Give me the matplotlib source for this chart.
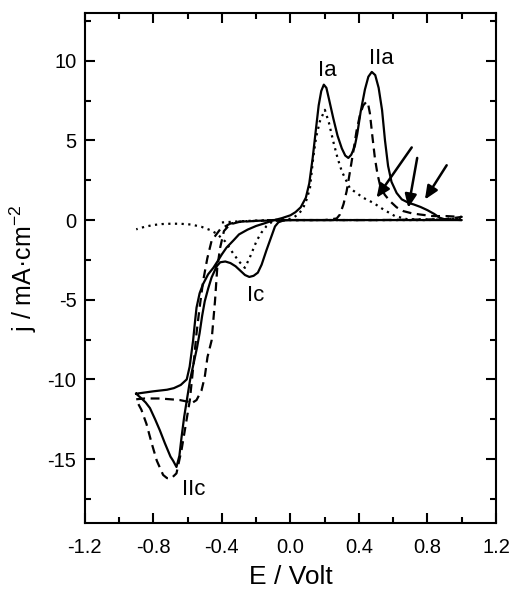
import matplotlib
matplotlib.use("Agg")
import matplotlib.pyplot as plt
from matplotlib.ticker import MultipleLocator

plt.rcParams['font.family'] = ['Liberation Sans', 'DejaVu Sans']
plt.rcParams['mathtext.fontset'] = 'custom'
plt.rcParams['mathtext.rm'] = 'Liberation Sans'
plt.rcParams['mathtext.it'] = 'Liberation Sans'

# ---- solid curve (E in V, j in mA/cm2) ----
solid_E = [-0.90, -0.80, -0.72, -0.68, -0.64, -0.605, -0.588, -0.577, -0.568, -0.558, -0.548, -0.53, -0.509,
           -0.48, -0.45, -0.42, -0.40, -0.373, -0.33, -0.30, -0.25, -0.20, -0.15, -0.10, -0.05, 0.0, 0.03,
           0.06, 0.09, 0.11, 0.13, 0.15, 0.165, 0.18, 0.195, 0.21, 0.225, 0.25, 0.275, 0.30, 0.32, 0.338,
           0.355, 0.375, 0.39, 0.41, 0.435, 0.455, 0.475, 0.495, 0.515, 0.535, 0.552, 0.57, 0.59, 0.62,
           0.65, 0.69, 0.72, 0.76, 0.80, 0.84, 0.87, 0.90, 1.0,
           0.90, 0.50, 0.20, 0.0, -0.04, -0.07, -0.09, -0.11, -0.14, -0.168, -0.19, -0.215, -0.24, -0.265,
           -0.29, -0.32, -0.35, -0.38, -0.41, -0.43, -0.46, -0.48, -0.50, -0.515, -0.53, -0.545, -0.565,
           -0.585, -0.60, -0.62, -0.635, -0.648, -0.665, -0.685, -0.70, -0.733, -0.762, -0.79, -0.82,
           -0.845, -0.869, -0.885, -0.90]
solid_j = [-10.9, -10.75, -10.65, -10.55, -10.35, -10.0, -9.2, -8.3, -7.56, -6.5, -5.5, -4.6, -4.0,
           -3.4, -3.0, -2.5, -2.15, -1.73, -1.25, -0.9, -0.6, -0.37, -0.2, -0.02, 0.12, 0.3, 0.5,
           0.8, 1.4, 2.3, 3.9, 5.8, 7.2, 8.1, 8.5, 8.3, 7.6, 6.4, 5.3, 4.5, 4.05, 3.9,
           4.1, 4.6, 5.4, 6.8, 8.2, 9.0, 9.3, 9.1, 8.3, 6.9, 5.0, 3.4, 2.4, 1.7,
           1.3, 1.08, 0.98, 0.82, 0.62, 0.38, 0.15, 0.05, 0.0,
           0.0, 0.0, 0.0, 0.0, -0.02, -0.14, -0.4, -1.0, -1.9, -2.8, -3.3, -3.5, -3.57, -3.45,
           -3.2, -2.9, -2.7, -2.6, -2.65, -2.9, -3.6, -4.3, -5.1, -6.0, -7.1, -8.0, -9.0,
           -10.0, -11.0, -12.35, -13.6, -14.8, -15.5, -15.1, -14.85, -14.0, -13.2, -12.5, -11.8,
           -11.45, -11.2, -11.05, -10.9]

# ---- dashed curve ----
dash_E = [-0.90, -0.85, -0.762, -0.70, -0.645, -0.60, -0.577, -0.548, -0.519, -0.50, -0.484, -0.46,
          -0.44, -0.427, -0.41, -0.388, -0.353, -0.30, -0.20, 0.0, 0.20, 0.27, 0.289, 0.31, 0.328, 0.347,
          0.367, 0.386, 0.406, 0.425, 0.445, 0.455, 0.464, 0.478, 0.493, 0.508, 0.523, 0.55, 0.58, 0.62,
          0.66, 0.71, 0.756, 0.83, 0.91, 0.96, 1.0,
          0.90, 0.50, 0.0, -0.10, -0.20, -0.30, -0.353, -0.41, -0.46, -0.485, -0.509, -0.53, -0.548,
          -0.565, -0.587, -0.61, -0.635, -0.665, -0.694, -0.72, -0.743, -0.78, -0.81, -0.84, -0.87, -0.90]
dash_j = [-11.25, -11.2, -11.2, -11.25, -11.3, -11.4, -11.5, -11.3, -10.7, -9.85, -8.6, -7.56,
          -5.06, -3.0, -1.73, -0.69, -0.27, -0.12, -0.05, 0.0, 0.0, 0.1, 0.35, 1.0, 1.8, 3.0,
          4.3, 5.6, 6.6, 7.2, 7.44, 7.2, 6.7, 5.3, 3.9, 2.9, 2.2, 1.6, 1.2, 0.8,
          0.56, 0.42, 0.35, 0.25, 0.25, 0.22, 0.2,
          0.05, 0.0, 0.0, 0.0, -0.05, -0.1, -0.23, -0.58, -1.3, -2.4, -3.8, -5.5, -7.1,
          -9.0, -11.3, -12.8, -14.4, -15.9, -16.2, -16.2, -16.0, -15.1, -14.0, -12.8, -11.9, -11.3]

# ---- dotted curve ----
dot_E = [-0.40, -0.30, -0.20, -0.10, 0.0,
         0.017, 0.05, 0.075, 0.095, 0.114, 0.133, 0.15, 0.172, 0.201, 0.225, 0.25, 0.275, 0.30, 0.347,
         0.425, 0.484, 0.542, 0.61, 0.68, 0.80, 0.90, 1.0,
         0.80, 0.50, 0.0, -0.10, -0.139, -0.17, -0.197, -0.237, -0.266, -0.30, -0.34, -0.38, -0.43,
         -0.47, -0.52, -0.58, -0.645, -0.70, -0.75, -0.80, -0.85, -0.90]
dot_j = [-0.15, -0.08, -0.03, 0.0, 0.08,
         0.15, 0.4, 0.77, 1.3, 2.0, 3.9, 5.2, 6.2, 6.92, 6.1, 4.94, 3.9, 3.06, 2.0,
         1.4, 1.08, 0.67, 0.25, 0.06, 0.03, 0.05, 0.1,
         0.0, 0.0, 0.0, -0.05, -0.37, -0.8, -1.3, -2.35, -3.0, -2.6, -2.0, -1.35, -0.85,
         -0.62, -0.42, -0.28, -0.23, -0.23, -0.25, -0.31, -0.42, -0.58]

# ---- annotations ----
peak_labels = ["Ia", "IIa", "Ic", "IIc"]
peak_label_E = [0.215, 0.532, -0.203, -0.563]
peak_label_j = [9.4, 10.15, -4.75, -16.9]

arrow_tail_E = [0.708, 0.740, 0.912]
arrow_tail_j = [4.56, 3.90, 3.44]
arrow_head_E = [0.503, 0.688, 0.785]
arrow_head_j = [1.40, 0.77, 1.29]

fig = plt.figure(figsize=(5.14, 5.90), dpi=100)
ax = fig.add_axes([0.165, 0.114, 0.800, 0.864])

lw = 1.6
ax.plot(solid_E, solid_j, color='black', lw=lw, ls='-')
ax.plot(dash_E, dash_j, color='black', lw=lw, ls=(0, (4, 2.5)))
ax.plot(dot_E, dot_j, color='black', lw=lw, ls=(0, (1, 2)))

for t, e, j in zip(peak_labels, peak_label_E, peak_label_j):
    ax.text(e, j, t, fontsize=16, ha='center', va='center')

for te, tj, he, hj in zip(arrow_tail_E, arrow_tail_j, arrow_head_E, arrow_head_j):
    ax.annotate('', xy=(he, hj), xytext=(te, tj),
                arrowprops=dict(arrowstyle='-|>,head_length=0.8,head_width=0.35',
                                color='black', lw=1.8, shrinkA=0, shrinkB=0))

ax.set_xlim(-1.2, 1.2)
ax.set_ylim(-19, 13)
ax.xaxis.set_minor_locator(MultipleLocator(0.2))
ax.yaxis.set_minor_locator(MultipleLocator(2.5))
ax.set_xticks([-1.2, -0.8, -0.4, 0.0, 0.4, 0.8, 1.2])
ax.set_xticklabels(['-1.2', '-0.8', '-0.4', '0.0', '0.4', '0.8', '1.2'])
ax.set_yticks([-15, -10, -5, 0, 5, 10])
ax.set_yticklabels(['-15', '-10', '-5', '0', '5', '10'])
ax.tick_params(which='both', direction='in', top=True, right=True, width=1.5, labelsize=14.5)
ax.tick_params(which='major', length=7)
ax.tick_params(which='minor', length=4.5)
ax.tick_params(axis='x', which='major', pad=11)
ax.tick_params(axis='y', which='major', pad=6)
for s in ax.spines.values():
    s.set_linewidth(1.5)

ax.set_xlabel('E / Volt', fontsize=19, labelpad=6)
ax.set_ylabel('j / mA·cm$^{-2}$', fontsize=18, labelpad=6)

fig.savefig('out.png', dpi=100)
